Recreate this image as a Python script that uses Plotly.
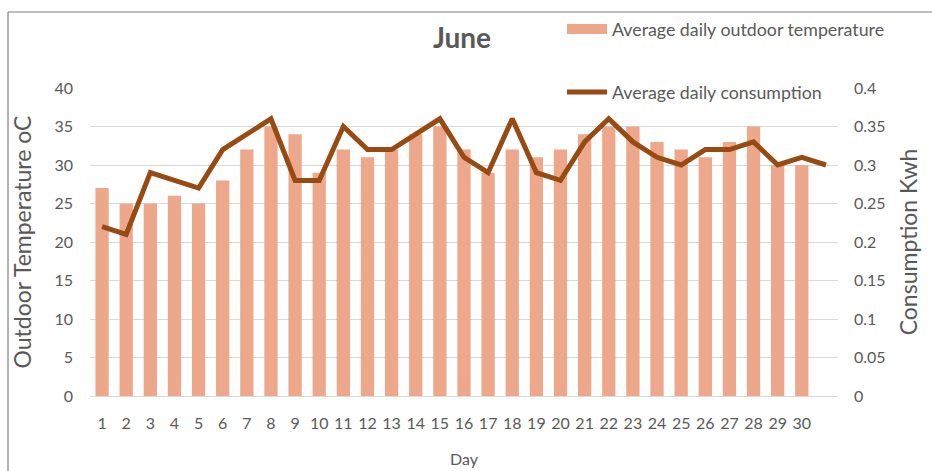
import plotly.graph_objects as go

days_bar = list(range(1, 31))
temperature = [27, 25, 25, 26, 25, 28, 32, 35, 34, 29,
               32, 31, 32, 34, 35, 32, 29, 32, 31, 32,
               34, 35, 35, 33, 32, 31, 33, 35, 30, 30]
days_line = list(range(1, 32))
consumption = [0.22, 0.21, 0.29, 0.28, 0.27, 0.32, 0.34, 0.36, 0.28, 0.28,
               0.35, 0.32, 0.32, 0.34, 0.36, 0.31, 0.29, 0.36, 0.29, 0.28,
               0.33, 0.36, 0.33, 0.31, 0.30, 0.32, 0.32, 0.33, 0.30, 0.31,
               0.30]
tick_labels = [str(d) for d in days_bar]

W, H = 932, 471
# reference pixel plot area: x 90..838, y 88..396
L, R, T, B = 90, 932 - 838, 88, 471 - 396
pw = W - L - R
ph = H - T - B

def px_x(p):
    return (p - L) / pw

def px_y(p):
    return (H - B - p) / ph

font_fam = "Lato, Open Sans, sans-serif"
gray = "#595959"
bar_color = "#eda78b"
line_color = "#974a12"

fig = go.Figure()
fig.add_trace(go.Bar(
    x=days_bar, y=temperature, name="Average daily outdoor temperature",
    marker=dict(color=bar_color, line=dict(width=0)), width=0.55,
    yaxis="y", showlegend=False))
# legend swatch for the bar series (wide rectangle like the original)
fig.add_trace(go.Scatter(
    x=[None], y=[None], name="Average daily outdoor temperature",
    mode="lines", line=dict(color=bar_color, width=11),
    yaxis="y", legend="legend", showlegend=True))
fig.add_trace(go.Scatter(
    x=days_line, y=consumption, name="Average daily consumption",
    mode="lines", line=dict(color=line_color, width=5),
    yaxis="y2", legend="legend2", showlegend=True))

fig.update_layout(
    width=W, height=H,
    margin=dict(l=L, r=R, t=T, b=B, autoexpand=False),
    paper_bgcolor="white", plot_bgcolor="white",
    showlegend=True,
    font=dict(family=font_fam, color=gray, size=16),
    title=dict(text="<b>June</b>", x=px_x(462), xref="paper", xanchor="center",
               y=1 - 38 / H, yanchor="middle",
               font=dict(size=28, color=gray, family=font_fam)),
    xaxis=dict(range=[0.5, 31.5], tickvals=days_bar, ticktext=tick_labels,
               showgrid=False, zeroline=False, showline=True, automargin=False,
               linecolor="#d9d9d9", ticks="", ticklabelstandoff=13,
               tickfont=dict(size=16, color=gray),
               title=dict(text="Day", font=dict(size=16, color=gray), standoff=22)),
    yaxis=dict(range=[0, 40], dtick=5, showgrid=True, gridcolor="#d9d9d9",
               zeroline=False, ticks="", ticklabelstandoff=16, automargin=False,
               tickfont=dict(size=16, color=gray),
               title=dict(text="Outdoor Temperature oC",
                          font=dict(size=23, color=gray), standoff=16)),
    yaxis2=dict(range=[0, 0.4], dtick=0.05, overlaying="y", side="right",
                showgrid=False, zeroline=False, ticks="", ticklabelstandoff=15,
                automargin=False,
                tickfont=dict(size=16, color=gray),
                title=dict(text="Consumption Kwh",
                           font=dict(size=23, color=gray), standoff=16)),
    legend=dict(x=px_x(562), y=px_y(11), xanchor="left", yanchor="top",
                bgcolor="rgba(0,0,0,0)", itemwidth=40,
                font=dict(size=17.8, color=gray)),
    legend2=dict(x=px_x(562), y=px_y(74), xanchor="left", yanchor="top",
                 bgcolor="rgba(0,0,0,0)", itemwidth=40,
                 font=dict(size=17.8, color=gray)),
)

# outer chart frame (left and top edges visible)
fig.add_shape(type="line", xref="paper", yref="paper",
              x0=px_x(8), x1=px_x(8), y0=px_y(480), y1=px_y(12),
              line=dict(color="#7f7f7f", width=1.2))
fig.add_shape(type="line", xref="paper", yref="paper",
              x0=px_x(8), x1=px_x(940), y0=px_y(12), y1=px_y(12),
              line=dict(color="#7f7f7f", width=1.2))

fig.write_html(
    "out.html",
    config={"displayModeBar": False},
    post_script="document.body.style.margin='0';document.body.style.overflow='hidden';",
)
